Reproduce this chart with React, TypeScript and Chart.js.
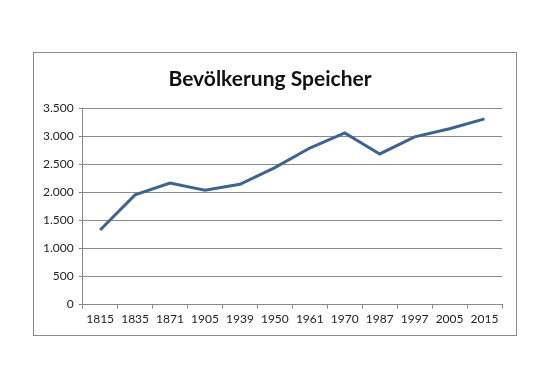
import React, { useEffect, useRef } from "react";
import { Chart, registerables } from "chart.js";

Chart.register(...registerables);

const years = ["1815", "1835", "1871", "1905", "1939", "1950", "1961", "1970", "1987", "1997", "2005", "2015"];
const population = [1330, 1955, 2165, 2040, 2145, 2440, 2790, 3060, 2685, 2990, 3135, 3310];
const yTicks = [0, 500, 1000, 1500, 2000, 2500, 3000, 3500];
const chartTitle = "Bevölkerung Speicher";

function fmt(v: number): string {
  return String(Math.round(v)).replace(/\B(?=(\d{3})+(?!\d))/g, ".");
}

export default function App() {
  const ref = useRef<HTMLCanvasElement | null>(null);
  useEffect(() => {
    if (!ref.current) return;
    const chart = new Chart(ref.current, {
      type: "line",
      data: {
        labels: years,
        datasets: [
          {
            data: population,
            borderColor: "#3d6490",
            borderWidth: 3,
            pointRadius: 0,
            tension: 0,
            fill: false,
          },
        ],
      },
      options: {
        animation: false,
        responsive: false,
        layout: { padding: { left: 4, right: 14, top: 8, bottom: 6 } },
        plugins: {
          legend: { display: false },
          tooltip: { enabled: false },
          title: {
            display: true,
            text: chartTitle,
            color: "#111",
            font: { family: "Lato, 'Open Sans', sans-serif", size: 21, weight: "bold" },
            padding: { top: 6, bottom: 16 },
          },
        },
        scales: {
          x: {
            offset: true,
            grid: {
              offset: true,
              drawOnChartArea: false,
              drawTicks: true,
              tickLength: 4,
              color: "#888",
            },
            border: { display: true, color: "#888", width: 1 },
            ticks: {
              color: "#222",
              font: { family: "Lato, 'Open Sans', sans-serif", size: 12 },
              maxRotation: 0,
              autoSkip: false,
              padding: 3,
            },
          },
          y: {
            min: 0,
            max: 3500,
            afterBuildTicks: (s: any) => {
              s.ticks = yTicks.map((v) => ({ value: v }));
            },
            grid: { color: "#8a8a8a", lineWidth: 1, tickLength: 4 },
            border: { display: true, color: "#888", width: 1 },
            ticks: {
              color: "#222",
              font: { family: "Lato, 'Open Sans', sans-serif", size: 12 },
              padding: 5,
              callback: (v: any) => fmt(Number(v)),
            },
          },
        },
      },
    });
    return () => chart.destroy();
  }, []);
  return (
    <div style={{ position: "absolute", left: 0, top: 0, width: 550, height: 389, background: "#fff" }}>
      <div
        style={{
          position: "absolute",
          left: 33,
          top: 52,
          width: 482,
          height: 282,
          border: "1px solid #8a8a8a",
        }}
      >
        <canvas ref={ref} width={482} height={282} style={{ display: "block" }} />
      </div>
    </div>
  );
}
